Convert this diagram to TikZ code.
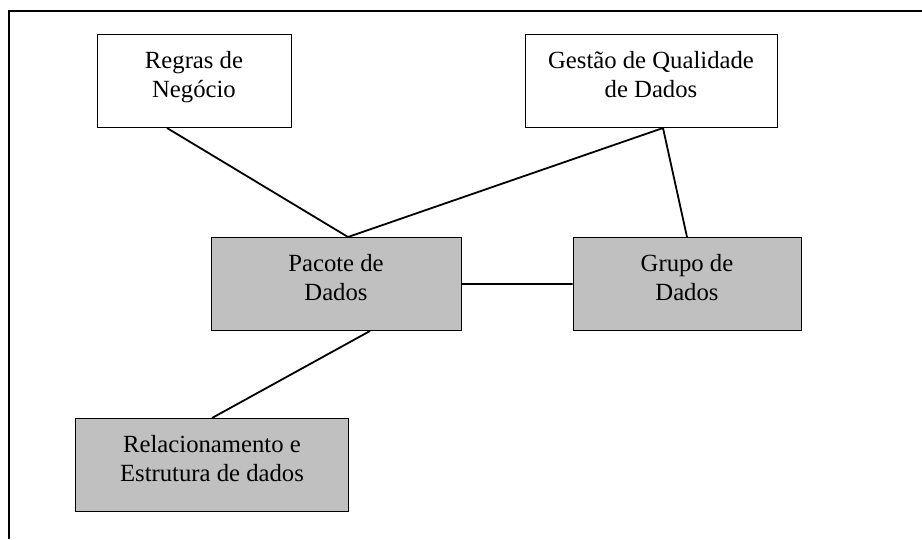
\documentclass[tikz,border=0pt]{standalone}
\usepackage{fontspec}
\setmainfont{Liberation Serif}
\usetikzlibrary{positioning}
\definecolor{boxgray}{RGB}{192,192,192}
\tikzset{x=1pt,y=-1pt,
  block/.style={draw,line width=1pt,rectangle,inner xsep=0pt,inner ysep=0pt,
    align=center,text height=63pt,text depth=30pt,
    font=\fontsize{24.7}{29}\selectfont},
  shaded/.style={block,fill=boxgray},
  link/.style={line width=1.8pt}}

\begin{document}
\begin{tikzpicture}
\useasboundingbox (0,0) rectangle (922,539);
\draw[line width=2.2pt] (922,11) -| (9,539);

\node[block, minimum width=194pt] (regras) at (194,81) {Regras de\\Negócio};
\node[block, minimum width=252pt] (gestao) at (651,81) {Gestão de Qualidade\\de Dados};
\node[shaded, minimum width=250pt] (pacote) at (336,284) {Pacote de\\Dados};
\node[shaded, minimum width=228pt, right=111pt of pacote] (grupo) {Grupo de\\Dados};
\node[shaded, minimum width=273pt] (relac) at (212,465) {Relacionamento e\\Estrutura de dados};

\draw[link]
([xshift=-27pt]regras.south) -- ([xshift=12pt]pacote.north)
([xshift=12pt]gestao.south) -- ([xshift=12pt]pacote.north)
([xshift=12pt]gestao.south) -- (grupo.north)
(pacote.east) -- (grupo.west)
([xshift=34pt]pacote.south) -- (relac.north);
\end{tikzpicture}
\end{document}
